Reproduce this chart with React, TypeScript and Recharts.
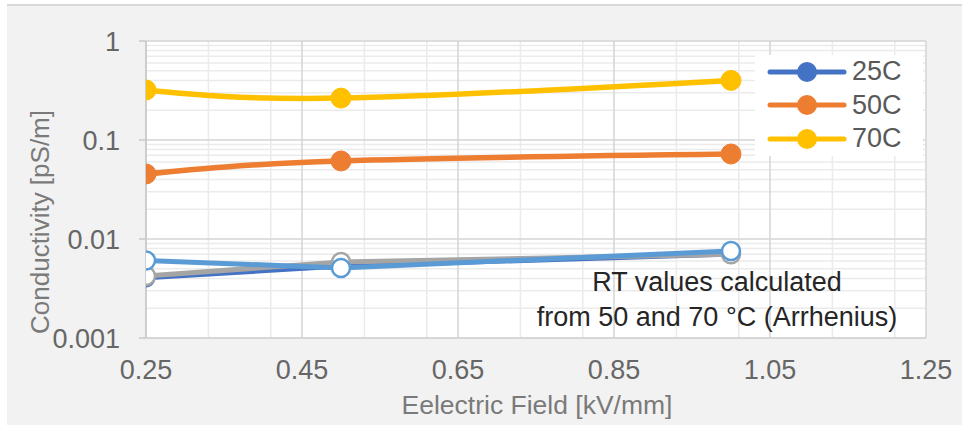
import React from "react";
import { LineChart, Line, XAxis, YAxis, CartesianGrid, Legend, Label, ReferenceLine } from "recharts";

const fieldKV = [0.25, 0.5, 1.0];
const cond25C = [0.00403, 0.0053, 0.007];
const cond50C = [0.0454, 0.0614, 0.0722];
const cond70C = [0.32, 0.265, 0.4];
const rtCalcA = [0.00422, 0.00586, 0.007];
const rtCalcB = [0.00607, 0.0051, 0.00757];

const xTicks = [0.25, 0.45, 0.65, 0.85, 1.05, 1.25];
const yTicks = [0.001, 0.01, 0.1, 1];

const xMinor: number[] = [];
for (let i = 0; i <= 25; i++) {
  if (i % 5 !== 0) xMinor.push(+(0.25 + i * 0.04).toFixed(2));
}
const yMinor: number[] = [];
[0.001, 0.01, 0.1].forEach((d) => {
  for (let k = 2; k <= 9; k++) yMinor.push(+(d * k).toPrecision(3));
});

const data = fieldKV.map((x, i) => ({
  x,
  c25: cond25C[i],
  c50: cond50C[i],
  c70: cond70C[i],
  rtA: rtCalcA[i],
  rtB: rtCalcB[i],
}));

const FONT = '"Liberation Sans", Arial, sans-serif';
const MAJOR = "#d4d4d4";
const MINOR = "#ebebeb";

const LegendBox = (props: any) => {
  const payload = (props.payload || []).filter((e: any) => e.type !== "none" && !String(e.value).startsWith("RT"));
  return (
    <div
      style={{
        background: "#fff",
        width: 168,
        height: 101,
        paddingLeft: 12,
        boxSizing: "border-box",
        overflow: "hidden",
      }}
    >
      {payload.map((e: any) => (
        <div key={e.value} style={{ height: 33.5, display: "flex", alignItems: "center" }}>
          <svg width={80} height={22} style={{ display: "block" }}>
            <line x1={3} x2={77} y1={11} y2={11} stroke={e.color} strokeWidth={5} strokeLinecap="round" />
            <circle cx={40} cy={11} r={10} fill={e.color} />
          </svg>
          <span style={{ marginLeft: 5, fontSize: 27, color: "#595959", fontFamily: FONT, lineHeight: "27px" }}>
            {e.value}
          </span>
        </div>
      ))}
    </div>
  );
};

export default function App() {
  return (
    <div style={{ position: "absolute", left: 0, top: 0, width: 968, height: 425, background: "#fff", fontFamily: FONT }}>
      <div
        style={{
          position: "absolute",
          left: 7,
          top: 4,
          width: 955,
          height: 421,
          background: "#f2f2f2",
          borderTop: "2px solid #d9d9d9",
          boxSizing: "border-box",
        }}
      />
      <div style={{ position: "absolute", left: 0, top: 0 }}>
        <LineChart width={968} height={425} data={data} margin={{ top: 41, right: 42, bottom: 27, left: 46 }}>
          <CartesianGrid
            fill="#ffffff"
            stroke={MINOR}
            strokeWidth={1.5}
            horizontal={false}
            verticalValues={xMinor}
          />
          {yMinor.map((v) => (
            <ReferenceLine key={"hm" + v} y={v} stroke={MINOR} strokeWidth={1.5} />
          ))}
          {xTicks.map((v) => (
            <ReferenceLine key={"vx" + v} x={v} stroke={MAJOR} strokeWidth={1.5} />
          ))}
          {yTicks.map((v) => (
            <ReferenceLine key={"hy" + v} y={v} stroke={MAJOR} strokeWidth={1.5} />
          ))}
          <XAxis
            dataKey="x"
            type="number"
            domain={[0.25, 1.25]}
            ticks={xTicks}
            tickFormatter={(v: number) => v.toFixed(2)}
            height={60}
            tickLine={false}
            tickSize={0}
            tickMargin={22}
            axisLine={{ stroke: MAJOR, strokeWidth: 1.5 }}
            tick={{ fill: "#666666", fontSize: 27, fontFamily: FONT }}
            allowDataOverflow
          >
            <Label
              content={() => (
                <text x={537} y={405} textAnchor="middle" dominantBaseline="central" fill="#7a7a7a" fontSize={26.5} fontFamily={FONT}>
                  Eelectric Field [kV/mm]
                </text>
              )}
            />
          </XAxis>
          <YAxis
            type="number"
            scale="log"
            domain={[0.001, 1]}
            ticks={yTicks}
            tickFormatter={(v: number) => String(v)}
            width={100}
            tickSize={7}
            tickMargin={19}
            tickLine={{ stroke: "#c8c8c8", strokeWidth: 1.5 }}
            axisLine={{ stroke: "#c8c8c8", strokeWidth: 1.5 }}
            tick={{ fill: "#666666", fontSize: 27, fontFamily: FONT }}
            allowDataOverflow
          >
            <Label
              content={() => (
                <text
                  x={40}
                  y={222}
                  transform="rotate(-90 40 222)"
                  textAnchor="middle"
                  dominantBaseline="central"
                  fill="#7a7a7a"
                  fontSize={26}
                  fontFamily={FONT}
                >
                  Conductivity [pS/m]
                </text>
              )}
            />
          </YAxis>
          <Legend
            layout="vertical"
            align="center"
            verticalAlign="middle"
            wrapperStyle={{ left: 755, top: 55, width: 168, height: 101 }}
            content={(p: any) => <LegendBox {...p} />}
          />
          <Line
            name="25C"
            dataKey="c25"
            type="linear"
            stroke="#4472C4"
            strokeWidth={4.5}
            dot={{ r: 9, fill: "#4472C4", stroke: "#4472C4", strokeWidth: 1 }}
            isAnimationActive={false}
          />
          <Line
            name="50C"
            dataKey="c50"
            type="natural"
            stroke="#ED7D31"
            strokeWidth={5.5}
            dot={{ r: 10, fill: "#ED7D31", stroke: "#ED7D31", strokeWidth: 1 }}
            isAnimationActive={false}
          />
          <Line
            name="70C"
            dataKey="c70"
            type="natural"
            stroke="#FFC000"
            strokeWidth={5.5}
            dot={{ r: 10, fill: "#FFC000", stroke: "#FFC000", strokeWidth: 1 }}
            isAnimationActive={false}
          />
          <Line
            name="RT calc A"
            dataKey="rtA"
            type="linear"
            stroke="#A5A5A5"
            strokeWidth={5}
            legendType="none"
            dot={{ r: 9, fill: "#ffffff", stroke: "#A5A5A5", strokeWidth: 2.5 }}
            isAnimationActive={false}
          />
          <Line
            name="RT calc B"
            dataKey="rtB"
            type="linear"
            stroke="#5B9BD5"
            strokeWidth={5}
            legendType="none"
            dot={{ r: 9, fill: "#ffffff", stroke: "#5B9BD5", strokeWidth: 2.5 }}
            isAnimationActive={false}
          />
        </LineChart>
      </div>
      <div
        style={{
          position: "absolute",
          left: 517,
          top: 265,
          width: 400,
          textAlign: "center",
          fontSize: 27,
          lineHeight: "35px",
          color: "#262626",
          fontFamily: FONT,
        }}
      >
        RT values calculated
        <br />
        from 50 and 70 °C (Arrhenius)
      </div>
    </div>
  );
}
